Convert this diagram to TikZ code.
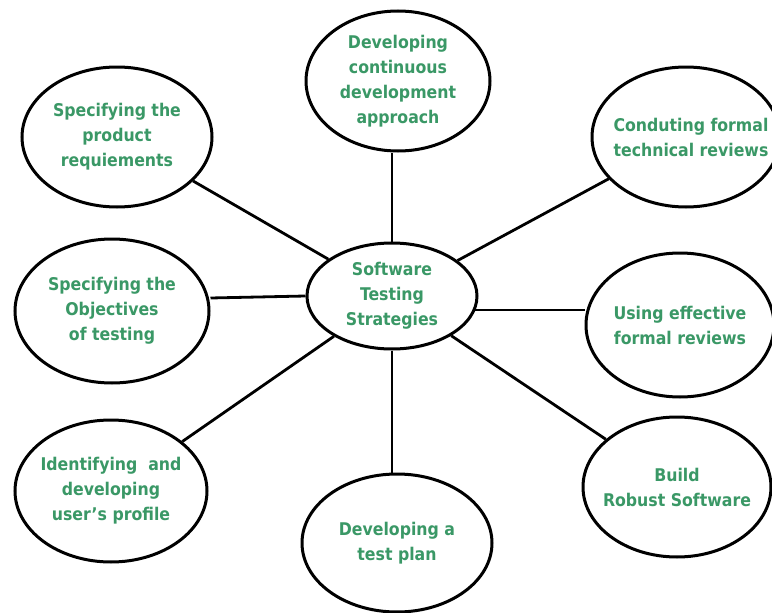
\documentclass[tikz,border=0pt]{standalone}
\usepackage{fontspec}
\setmainfont{DejaVu Sans Condensed}
\usetikzlibrary{shapes.geometric}

\definecolor{leafgreen}{RGB}{58,152,102}
\tikzset{
    bubble/.style={draw, ellipse, line width=3pt, inner sep=0pt},
    bubbletext/.style={text=leafgreen, font=\bfseries\fontsize{17.5}{25}\selectfont, align=center},
    spoke/.style={line width=2.8pt}
}

\begin{document}
\begin{tikzpicture}[x=1pt, y=-1pt]
    \useasboundingbox[fill=white] (0,0) rectangle (772,613);
    \clip (0,0) rectangle (772,613);

    % hub
    \node[bubble, minimum width=170, minimum height=106,
        label={[bubbletext]center:Software\\Testing\\Strategies}] (core) at (392,296) {};

    % outer ring
    \node[bubble, minimum width=184, minimum height=140,
        label={[bubbletext]center:Developing\\continuous\\development\\approach}] (devapp) at (398,81) {};
    \node[bubble, minimum width=190, minimum height=140,
        label={[bubbletext]center:Specifying the\\product\\requiements}] (prodreq) at (117,137) {};
    \node[bubble, minimum width=188, minimum height=140,
        label={[bubbletext, xshift=5]center:Conduting formal\\technical reviews}] (techrev) at (686,137) {};
    \node[bubble, minimum width=194, minimum height=144,
        label={[bubbletext]center:Specifying the\\Objectives\\of testing}] (objtest) at (112,311) {};
    \node[bubble, minimum width=188, minimum height=144,
        label={[bubbletext]center:Using effective\\formal reviews}] (formrev) at (680,325) {};
    \node[bubble, minimum width=192, minimum height=142,
        label={[bubbletext]center:Identifying~ and\\developing\\user's profile}] (userprof) at (111,491) {};
    \node[bubble, minimum width=190, minimum height=138,
        label={[bubbletext]center:Developing a\\test plan}] (testplan) at (397,543) {};
    \node[bubble, minimum width=188, minimum height=140,
        label={[bubbletext]center:Build\\Robust Software}] (robust) at (677,487) {};

    % spokes
    \draw[spoke] (core.north) -- (core.north |- devapp.south);
    \draw[spoke] (core) -- (prodreq);
    \draw[spoke] (core) -- (techrev);
    \draw[spoke] (core.west) -- ([yshift=13]objtest.east);
    \draw[spoke] ([xshift=-4,yshift=-14]core.east) -- ([yshift=15]formrev.west);
    \draw[spoke] (core) -- (userprof);
    \draw[spoke] (core.south) -- (core.south |- testplan.north);
    \draw[spoke] (core) -- (robust);
\end{tikzpicture}
\end{document}
